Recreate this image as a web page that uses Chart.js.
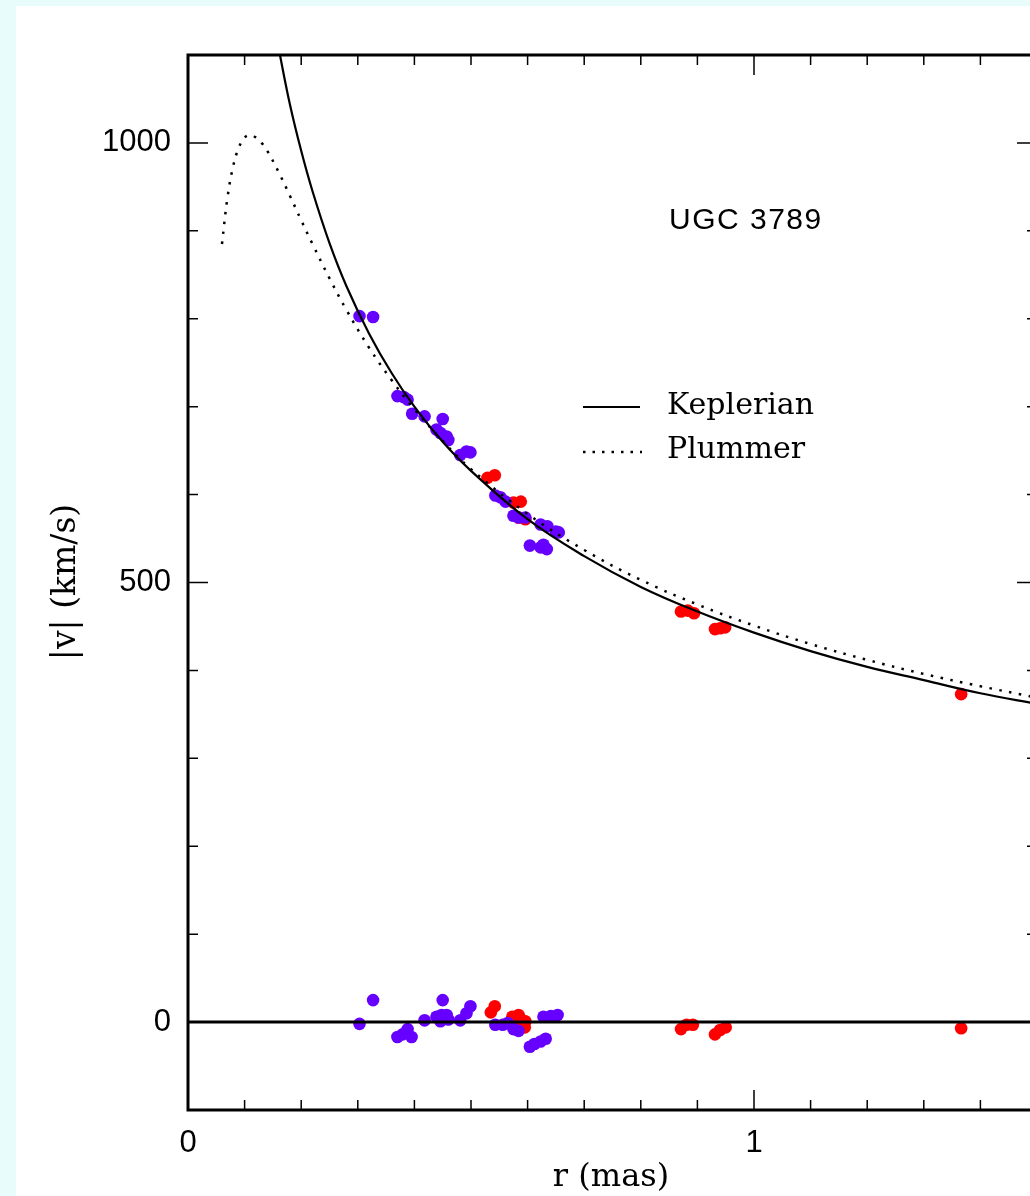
<!DOCTYPE html>
<html>
<head>
<meta charset="utf-8">
<script src="https://cdn.jsdelivr.net/npm/chart.js@4.4.1/dist/chart.umd.min.js"></script>
<style>
  html, body { margin:0; padding:0; background:#e8fcfc; overflow:hidden; }
  #wrap { position:absolute; left:0; top:0; width:1052px; height:1196px; }
</style>
</head>
<body>
<div id="wrap"><canvas id="c" width="1052" height="1196"></canvas></div>
<script>
// Data
const keplerR = [0.16,0.18,0.20,0.22,0.25,0.28,0.32,0.36,0.40,0.45,0.50,0.60,0.70,0.80,0.90,1.0,1.1,1.2,1.3,1.4,1.5];
const keplerV = [1108,1044,991,945,886,837,783,738,700,660,627,572,530,495,467,443,422,404,389,374,362];

const plummerR = [0.06,0.07,0.08,0.09,0.10,0.11,0.12,0.13,0.14,0.16,0.18,0.20,0.22,0.25,0.28,0.32,0.36,0.40,0.45,0.50,0.60,0.70,0.80,0.90,1.0,1.1,1.2,1.3,1.4,1.5];
const plummerV = [885,939,974,995,1006,1009,1006,1000,991,967,940,912,885,846,810,767,730,697,661,629,578,537,503,475,451,430,412,396,382,369];

const zeroR = [0, 1.5];
const zeroV = [0, 0];

// |v| points on the rotation curve
const blueR = [0.303,0.327,0.370,0.381,0.388,0.396,0.418,0.450,0.439,0.446,0.457,0.460,0.481,0.492,0.499,0.543,0.552,0.561,0.575,0.584,0.596,0.604,0.623,0.628,0.634,0.623,0.635,0.650,0.655];
const blueV = [803,802,712,711,708,692,689,686,674,670,666,662,645,649,648,599,597,592,576,574,574,542,540,543,538,566,564,558,557];
const redR  = [0.529,0.542,0.575,0.588,0.584,0.596,0.871,0.883,0.894,0.931,0.940,0.949,1.366];
const redV  = [619,622,591,592,574,572,467,468,465,447,448,449,373];

// residuals about zero
const blueLowR = [0.303,0.327,0.370,0.379,0.388,0.395,0.418,0.439,0.448,0.457,0.446,0.460,0.450,0.481,0.492,0.499,0.543,0.556,0.565,0.575,0.584,0.604,0.612,0.623,0.632,0.628,0.641,0.653];
const blueLowV = [-2,25,-17,-14,-8,-17,2,6,8,8,1,3,25,2,10,18,-3,-3,-1,-8,-10,-28,-25,-22,-19,6,7,8];
const redLowR  = [0.535,0.542,0.573,0.584,0.589,0.596,0.586,0.595,0.871,0.881,0.892,0.931,0.940,0.950,1.366];
const redLowV  = [11,18,6,8,3,1,-5,-6,-8,-3,-3,-14,-9,-6,-7];

const xTicksMajor = [0, 1];
const yTicksMajor = [0, 500, 1000];

// Helpers
const pts = (xs, ys) => xs.map((x, i) => ({ x, y: ys[i] }));
const PURPLE = '#6600ff';
const RED = '#ff0000';
const SANS = '"Liberation Sans", Arial, sans-serif';
const SERIF = '"DejaVu Serif", serif';
const PLOT_RIGHT = 1035;

// background + frame + inward ticks + annotation text
const decor = {
  id: 'decor',
  beforeDraw(chart){
    const ctx = chart.ctx;
    ctx.save();
    ctx.fillStyle = '#e8fcfc';
    ctx.fillRect(0, 0, chart.width, chart.height);
    ctx.fillStyle = '#ffffff';
    ctx.fillRect(16, 6, chart.width - 16, chart.height - 6);
    ctx.restore();
  },
  afterDraw(chart){
    const ctx = chart.ctx;
    const a = chart.chartArea;
    const xs = chart.scales.x, ys = chart.scales.y;
    ctx.save();
    ctx.strokeStyle = '#000';
    ctx.lineWidth = 3;
    ctx.strokeRect(a.left, a.top, a.right - a.left, a.bottom - a.top);

    ctx.lineWidth = 1.5;
    ctx.beginPath();
    for (let i = 0; i <= 15; i++){
      const v = i / 10;
      const px = xs.getPixelForValue(v);
      const len = xTicksMajor.includes(Math.round(v * 10) / 10) ? 20 : 10;
      ctx.moveTo(px, a.bottom); ctx.lineTo(px, a.bottom - len);
      ctx.moveTo(px, a.top);    ctx.lineTo(px, a.top + len);
    }
    for (let v = -100; v <= 1100; v += 100){
      const py = ys.getPixelForValue(v);
      const len = yTicksMajor.includes(v) ? 20 : 10;
      ctx.moveTo(a.left, py);  ctx.lineTo(a.left + len, py);
      ctx.moveTo(a.right, py); ctx.lineTo(a.right - len, py);
    }
    ctx.stroke();

    // legend
    ctx.lineWidth = 2;
    ctx.beginPath();
    ctx.moveTo(583, 407); ctx.lineTo(640, 407);
    ctx.stroke();
    ctx.lineWidth = 2.5;
    ctx.setLineDash([2.5, 7]);
    ctx.beginPath();
    ctx.moveTo(583, 452); ctx.lineTo(642, 452);
    ctx.stroke();
    ctx.setLineDash([]);

    ctx.fillStyle = '#000';
    ctx.textBaseline = 'middle';
    ctx.textAlign = 'left';
    ctx.font = '30px ' + SERIF;
    ctx.fillText('Keplerian', 667, 406);
    ctx.fillText('Plummer', 667, 450);

    ctx.font = '30px ' + SANS;
    ctx.letterSpacing = '1.5px';
    ctx.fillText('UGC 3789', 669, 221);
    ctx.letterSpacing = '0px';

    // axis titles
    ctx.textAlign = 'center';
    ctx.font = '32px ' + SERIF;
    ctx.fillText('r (mas)', 611, 1178);
    ctx.translate(66, 582);
    ctx.rotate(-Math.PI / 2);
    ctx.font = '33px ' + SERIF;
    ctx.fillText('|v| (km/s)', 0, 0);
    ctx.restore();
  }
};

const chart = new Chart(document.getElementById('c'), {
  type: 'scatter',
  data: {
    datasets: [
      { label: 'Keplerian', data: pts(keplerR, keplerV), showLine: true, pointRadius: 0,
        borderColor: '#000', borderWidth: 2.2, tension: 0.4 },
      { label: 'Plummer', data: pts(plummerR, plummerV), showLine: true, pointRadius: 0,
        borderColor: '#000', borderWidth: 2.5, borderDash: [2.5, 7.5], tension: 0.4 },
      { label: 'zero', data: pts(zeroR, zeroV), showLine: true, pointRadius: 0,
        borderColor: '#000', borderWidth: 3 },
      { label: 'blue', data: pts(blueR, blueV), pointRadius: 6.3, backgroundColor: PURPLE, borderWidth: 0 },
      { label: 'red', data: pts(redR, redV), pointRadius: 6.3, backgroundColor: RED, borderWidth: 0 },
      { label: 'blueLow', data: pts(blueLowR, blueLowV), pointRadius: 6.3, backgroundColor: PURPLE, borderWidth: 0 },
      { label: 'redLow', data: pts(redLowR, redLowV), pointRadius: 6.3, backgroundColor: RED, borderWidth: 0 }
    ]
  },
  options: {
    responsive: false,
    animation: false,
    devicePixelRatio: 1,
    layout: { padding: { left: 0, top: 55, right: 5, bottom: 0 } },
    plugins: { legend: { display: false }, tooltip: { enabled: false } },
    scales: {
      x: {
        type: 'linear', min: 0, max: 1.5,
        grid: { display: false, drawTicks: false },
        border: { display: false },
        ticks: {
          stepSize: 0.1, autoSkip: false, maxRotation: 0, padding: 15,
          color: '#000', font: { family: SANS, size: 31 },
          callback: (v) => xTicksMajor.includes(Math.round(v * 10) / 10) ? String(Math.round(v)) : ''
        },
        afterFit: (s) => { s.height = 86; }
      },
      y: {
        type: 'linear', min: -100, max: 1100,
        grid: { display: false, drawTicks: false },
        border: { display: false },
        ticks: {
          stepSize: 100, autoSkip: false, padding: 17,
          color: '#000', font: { family: SANS, size: 31 },
          callback: (v) => yTicksMajor.includes(v) ? String(v) : ''
        },
        afterFit: (s) => { s.width = 188; }
      }
    }
  },
  plugins: [decor]
});
// keep the plot's right edge where the figure has it
const extra = chart.chartArea.right - PLOT_RIGHT;
if (Math.abs(extra) > 0.5){
  chart.options.layout.padding.right = 5 + extra;
  chart.update();
}
</script>
</body>
</html>
